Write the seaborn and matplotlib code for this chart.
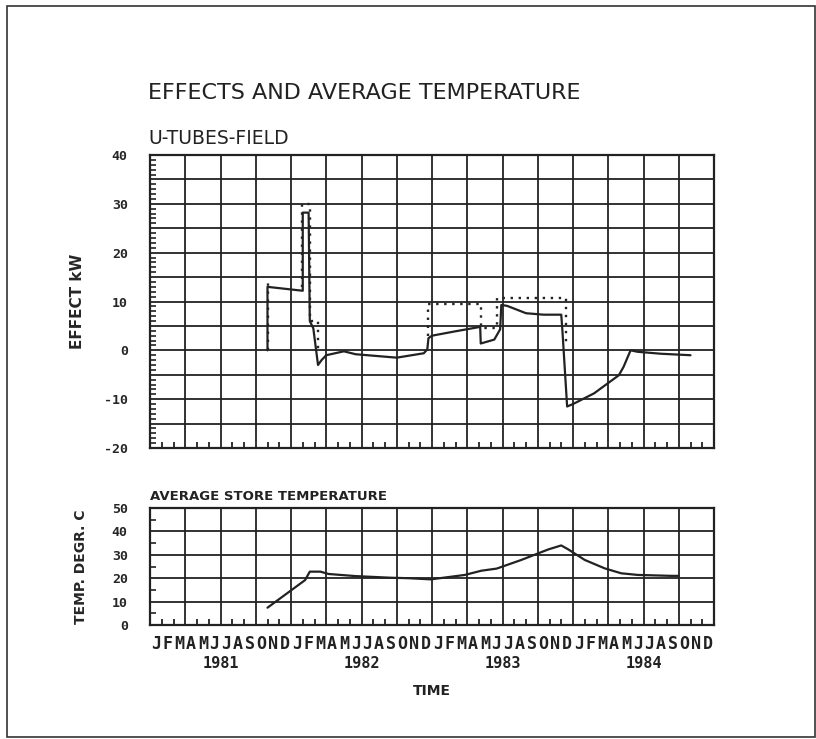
import numpy as np
import pandas as pd
import matplotlib
matplotlib.use("Agg")
import matplotlib.pyplot as plt
import matplotlib.transforms as mtransforms
from matplotlib.patches import Rectangle
from matplotlib.ticker import MultipleLocator, FixedLocator, NullFormatter
import seaborn as sns

# ---------------- data (x = months since Jan 1981) ----------------
effect_month = [10.0, 10.0, 13.0, 13.0, 13.5, 13.6, 13.9, 14.3, 14.6, 15.0, 16.5, 17.5,
                18.5, 21.0, 23.3, 23.6, 23.7, 24.0, 26.0, 28.1, 28.15, 29.3, 29.8,
                29.9, 30.4, 32.0, 33.5, 35.0, 35.1, 35.5, 36.0, 37.8, 39.9, 40.3, 40.9,
                41.5, 43.5, 46.0]
effect_kw = [0.0, 13.0, 12.2, 28.2, 28.2, 6.0, 4.5, -3.0, -2.0, -1.0, -0.2, -0.8,
             -1.0, -1.5, -0.6, 0.2, 2.5, 3.0, 3.9, 4.8, 1.4, 2.2, 4.3,
             9.3, 9.1, 7.6, 7.3, 7.3, 4.0, -11.5, -11.0, -8.8, -5.1, -3.4, 0.0,
             -0.3, -0.7, -1.0]
effect_seg = [0] * len(effect_month)

plan_seg = [0, 0, 1, 1, 1, 1, 1, 1, 2, 2, 2, 2, 2, 2, 2, 2]
plan_month = [10.0, 10.0, 12.9, 12.9, 13.65, 13.65, 14.3, 14.3,
              23.7, 23.7, 28.2, 28.2, 29.55, 29.55, 35.4, 35.4]
plan_kw = [0.0, 14.0, 13.0, 30.0, 30.0, 6.0, 6.0, 0.0,
           3.0, 9.5, 9.5, 4.5, 4.5, 10.7, 10.7, 1.5]

temp_month = [10.0, 13.2, 13.6, 14.5, 15.2, 17.5, 20.5, 22.0, 23.9, 26.8, 28.2,
              29.5, 31.6, 33.9, 35.0, 35.6, 37.0, 38.7, 40.1, 41.5, 44.4, 45.0]
temp_c = [7.4, 19.2, 22.8, 22.8, 21.8, 20.9, 20.2, 20.0, 19.5, 21.4, 23.2,
          24.1, 27.8, 32.3, 34.0, 32.3, 27.8, 24.2, 22.1, 21.4, 21.0, 21.0]

month_letters = list("JFMAMJJASOND") * 4
years = ["1981", "1982", "1983", "1984"]
effect_ticks = [-20, -10, 0, 10, 20, 30, 40]
temp_ticks = [0, 10, 20, 30, 40, 50]

# ---------------- style ----------------
sns.set_theme(style="white")
plt.rcParams["font.family"] = ["DejaVu Sans"]
plt.rcParams["axes.edgecolor"] = "black"
plt.rcParams["axes.linewidth"] = 1.4

W, H = 816, 739
fig = plt.figure(figsize=(W / 100, H / 100), dpi=100)
fig.patch.set_facecolor("white")

def box(l, t, r, b):
    return [l / W, 1 - b / H, (r - l) / W, (b - t) / H]

ax1 = fig.add_axes(box(150, 155, 714, 448))
ax2 = fig.add_axes(box(150, 508, 714, 625))

df_eff = pd.DataFrame({"month": effect_month, "kw": effect_kw, "seg": effect_seg})
df_plan = pd.DataFrame({"month": plan_month, "kw": plan_kw, "seg": plan_seg})
df_temp = pd.DataFrame({"month": temp_month, "temp": temp_c})

sns.lineplot(data=df_eff, x="month", y="kw", units="seg", estimator=None, sort=False,
             color="#222222", lw=1.6, ax=ax1)
sns.lineplot(data=df_plan, x="month", y="kw", units="seg", estimator=None, sort=False,
             color="#222222", lw=1.7, ax=ax1, linestyle=(0, (1, 2.4)))
sns.lineplot(data=df_temp, x="month", y="temp", estimator=None, sort=False,
             color="#222222", lw=1.6, ax=ax2)

mono = "DejaVu Sans Mono"

for ax, lo, hi, gstep, mstep, ticks in [(ax1, -20, 40, 5, 1, effect_ticks),
                                         (ax2, 0, 50, 10, 5, temp_ticks)]:
    ax.set_xlim(0, 48)
    ax.set_ylim(lo, hi)
    ax.xaxis.set_major_locator(MultipleLocator(3))
    ax.xaxis.set_minor_locator(FixedLocator([m for m in range(1, 48) if m % 3]))
    ax.xaxis.set_major_formatter(NullFormatter())
    gl = list(np.arange(lo, hi + 0.1, gstep))
    ax.yaxis.set_major_locator(FixedLocator(gl))
    ax.set_yticklabels([str(int(v)) if int(v) in ticks else "" for v in gl],
                       fontfamily=mono, fontweight="bold", fontsize=9.5)
    ax.yaxis.set_minor_locator(FixedLocator([v for v in np.arange(lo, hi + 0.1, mstep)
                                             if v % gstep != 0]))
    ax.grid(True, which="major", color="#222222", lw=1.3)
    ax.tick_params(axis="x", which="major", length=0)
    ax.tick_params(axis="x", which="minor", direction="in", length=4, width=1.3,
                   bottom=True, top=False, color="#222222")
    ax.tick_params(axis="y", which="major", length=0, pad=16)
    ax.tick_params(axis="y", which="minor", direction="in", length=4, width=1.2,
                   left=True, right=False, color="#222222")
    ax.set_xlabel("")
    for s in ax.spines.values():
        s.set_color("#222222")
        s.set_linewidth(1.6)

ax1.set_ylabel("EFFECT kW", fontweight="bold", fontsize=11)
ax1.yaxis.set_label_coords(-0.115, 0.5)
ax2.set_ylabel("TEMP. DEGR. C", fontweight="bold", fontsize=10)
ax2.yaxis.set_label_coords(-0.11, 0.5)

# titles
fig.text(148 / W, 1 - 99 / H, "EFFECTS AND AVERAGE TEMPERATURE", fontsize=16,
         va="baseline", ha="left", color="#222222")
fig.text(148 / W, 1 - 144 / H, "U-TUBES-FIELD", fontsize=13.5,
         va="baseline", ha="left", color="#222222")
fig.text(150 / W, 1 - 500 / H, "AVERAGE STORE TEMPERATURE", fontsize=9.5,
         fontweight="bold", va="baseline", ha="left", color="#222222")

# month letters, years, time label
tr = mtransforms.blended_transform_factory(ax2.transData, fig.transFigure)
for i, lt in enumerate(month_letters):
    ax2.text(i + 0.5, 1 - 649 / H, lt, transform=tr, ha="center", va="baseline",
             fontfamily=mono, fontweight="bold", fontsize=12, color="#222222")
for j, yr in enumerate(years):
    ax2.text(12 * j + 6, 1 - 668 / H, yr, transform=tr, ha="center", va="baseline",
             fontfamily=mono, fontweight="bold", fontsize=11, color="#222222")
ax2.text(24, 1 - 695 / H, "TIME", transform=tr, ha="center", va="baseline",
         fontweight="bold", fontsize=10, color="#222222")

# outer frame
fig.add_artist(Rectangle((7 / W, 1 - 737 / H), (815 - 7) / W, (737 - 6) / H,
                         transform=fig.transFigure, fill=False, ec="#333333", lw=1.2))

fig.savefig("out.png", dpi=100)
